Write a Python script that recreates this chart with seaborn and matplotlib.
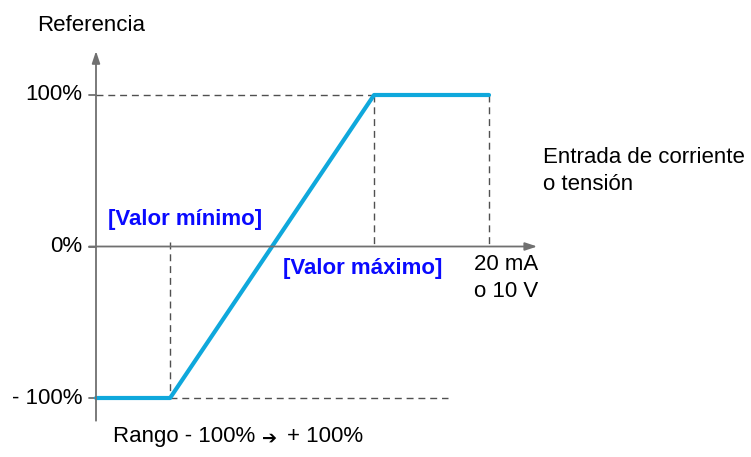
import matplotlib
matplotlib.use("Agg")
import matplotlib.pyplot as plt
import pandas as pd
import seaborn as sns

# transfer curve: input (0..20 mA scale) -> reference (%)
input_pts = [0.0, 3.77, 14.15, 20.0]
ref_pts = [-100, -100, 100, 100]
x_min_val = 3.77
x_max_val = 14.15
x_end = 20.0
y_ticks = [100, 0, -100]
y_tick_labels = ["100%", "0%", "- 100%"]

sns.set_theme(style="white")
plt.rcParams["font.family"] = ["Liberation Sans", "DejaVu Sans"]

W, H = 751, 457
fig = plt.figure(figsize=(W / 100, H / 100), dpi=100)
# axes placed so data 0..20 -> px 96..489, -100..100 -> px 398..95
ax = fig.add_axes([96 / W, (H - 398) / H, 393 / W, 303 / H])

axis_col = "#707070"
dash_col = "#505050"
line_col = "#0fa8dc"
blue_txt = "#0a0aff"

# axes with arrows
ax.annotate("", xy=(0, 129), xytext=(0, -115), annotation_clip=False,
            arrowprops=dict(arrowstyle="-|>,head_length=0.6,head_width=0.2",
                            color=axis_col, lw=1.3, shrinkA=0, shrinkB=0))
ax.annotate("", xy=(22.45, 0), xytext=(-0.35, 0), annotation_clip=False,
            arrowprops=dict(arrowstyle="-|>,head_length=0.6,head_width=0.2",
                            color=axis_col, lw=1.3, shrinkA=0, shrinkB=0))
for yt in y_ticks:
    ax.plot([-0.35, 0], [yt, yt], color=axis_col, lw=1.3, clip_on=False)

# dashed guides
dkw = dict(color=dash_col, lw=1.0, ls=(0, (5, 3.5)), clip_on=False)
ax.plot([0, x_max_val], [100, 100], **dkw)
ax.plot([x_min_val, 17.9], [-100, -100], **dkw)
ax.plot([x_max_val, x_max_val], [100, 0], **dkw)
ax.plot([x_end, x_end], [100, 0], **dkw)
ax.plot([x_min_val, x_min_val], [3, -100], **dkw)

df = pd.DataFrame({"entrada": input_pts, "referencia": ref_pts})
sns.lineplot(data=df, x="entrada", y="referencia", ax=ax, color=line_col,
             lw=3, sort=False, estimator=None)
ax.lines[-1].set_clip_on(False)
ax.set_xlim(0, x_end)
ax.set_ylim(-100, 100)
ax.axis("off")

fs = 16
for yt, lab in zip(y_ticks, y_tick_labels):
    ax.text(-0.7, yt, lab, ha="right", va="center", fontsize=fs, color="black")

ax.text(-3.0, 146, "Referencia", ha="left", va="center", fontsize=fs, color="black")
ax.text(22.75, 59, "Entrada de corriente", ha="left", va="center", fontsize=fs, color="black")
ax.text(22.75, 41, "o tensión", ha="left", va="center", fontsize=fs, color="black")
ax.text(19.25, -12, "20 mA", ha="left", va="center", fontsize=fs, color="black")
ax.text(19.25, -30, "o 10 V", ha="left", va="center", fontsize=fs, color="black")
ax.text(0.6, 17.5, "[Valor mínimo]", ha="left", va="center", fontsize=fs,
        fontweight="bold", color=blue_txt)
ax.text(9.5, -14.5, "[Valor máximo]", ha="left", va="center", fontsize=fs,
        fontweight="bold", color=blue_txt)
ax.text(0.85, -125.5, "Rango - 100%", ha="left", va="center",
        fontsize=fs, color="black")
ax.text(8.85, -127, "\u2794", ha="center", va="center", fontsize=13,
        color="black", family=["DejaVu Sans"])
ax.text(9.7, -125.5, "+ 100%", ha="left", va="center",
        fontsize=fs, color="black")

fig.savefig("out.png", dpi=100)
